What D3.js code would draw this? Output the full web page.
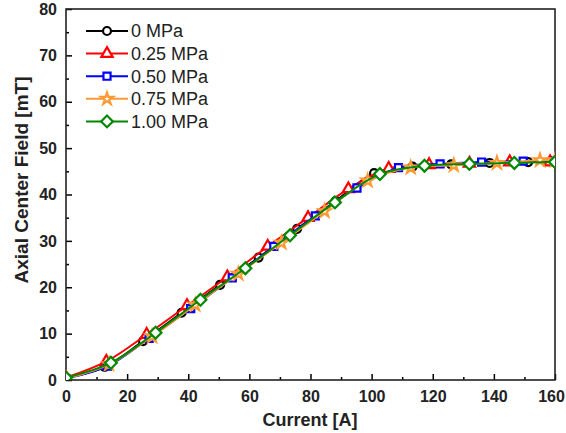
<!DOCTYPE html>
<html><head><meta charset="utf-8">
<script src="https://cdn.jsdelivr.net/npm/d3@7"></script>
<style>body{margin:0;background:#fff}svg{display:block}text{font-family:"Liberation Sans",Arial,sans-serif}</style>
</head><body><svg id="c" width="566" height="433"></svg>
<script>
const seriesNames = ["0 MPa","0.25 MPa","0.50 MPa","0.75 MPa","1.00 MPa"];
const seriesColors = ["#000000","#ff0000","#0000ff","#ff9933","#008800"];
const x0MPa = [0,12.6,25.2,37.8,50.4,63,75.6,88.2,100.8,113.4,126,138.6,151.2,160];
const y0MPa = [0.5,2.8,8.4,14.5,20.5,26.4,32.6,38.6,44.6,46.0,46.5,46.8,47.0,47.0];
const x025MPa = [0,13.2,26.4,39.6,52.8,66,79.2,92.4,105.6,118.8,132,145.2,158.4];
const y025MPa = [0.5,4.0,9.8,16.0,22.2,28.8,35.0,41.2,45.6,46.4,46.7,47.0,47.0];
const x050MPa = [0,13.6,27.2,40.8,54.4,68,81.6,95.2,108.8,122.4,136,149.6,160];
const y050MPa = [0.3,3.0,9.0,15.4,22.0,28.8,35.4,41.4,45.8,46.6,47.0,47.2,47.2];
const x075MPa = [0,14.1,28.2,42.3,56.4,70.5,84.6,98.7,112.8,126.9,141,155.1,160];
const y075MPa = [0.3,3.4,9.4,16.2,22.9,29.6,36.4,43.0,45.8,46.3,46.8,47.4,47.4];
const x100MPa = [0,14.7,29.3,44,58.7,73.3,88,102.7,117.3,132,146.7,160];
const y100MPa = [0.5,3.7,10.2,17.3,24.1,31.2,38.3,44.4,46.2,46.6,46.8,47.0];
const xTicks = [0,20,40,60,80,100,120,140,160];
const yTicks = [0,10,20,30,40,50,60,70,80];

const xs = [x0MPa,x025MPa,x050MPa,x075MPa,x100MPa];
const ys = [y0MPa,y025MPa,y050MPa,y075MPa,y100MPa];
const series = seriesNames.map((n,i)=>({name:n,color:seriesColors[i],pts:xs[i].map((x,j)=>({x,y:ys[i][j]}))}));

const L=66,R=555,T=9,B=380;
const svg=d3.select("#c");
const x=d3.scaleLinear().domain([0,160]).range([L,R]);
const y=d3.scaleLinear().domain([0,80]).range([B,T]);

svg.append("defs").append("clipPath").attr("id","clip").append("rect").attr("x",L).attr("y",T).attr("width",R-L).attr("height",B-T);

const gx=svg.append("g").attr("transform",`translate(0,${B})`);
gx.call(d3.axisBottom(x).tickValues(d3.range(10,160,20)).tickSize(-3).tickFormat("")).call(g=>g.select(".domain").remove());
const gx2=svg.append("g").attr("transform",`translate(0,${B})`)
 .call(d3.axisBottom(x).tickValues(xTicks).tickSize(-6).tickPadding(11).tickFormat(d3.format("d")));
gx2.select(".domain").remove();
gx2.selectAll("text").attr("font-size",16).attr("font-weight","bold").attr("fill","#222").attr("dy","0.71em");
gx2.selectAll("text").filter(d=>d===160).attr("dx","-4");
const gy=svg.append("g").attr("transform",`translate(${L},0)`);
gy.call(d3.axisLeft(y).tickValues(d3.range(5,80,10)).tickSize(-3).tickFormat("")).call(g=>g.select(".domain").remove());
const gy2=svg.append("g").attr("transform",`translate(${L},0)`)
 .call(d3.axisLeft(y).tickValues(yTicks).tickSize(-6).tickPadding(9).tickFormat(d3.format("d")));
gy2.select(".domain").remove();
gy2.selectAll("text").attr("font-size",16).attr("font-weight","bold").attr("fill","#222");
svg.selectAll(".tick line").attr("stroke","#000").attr("stroke-width",1.5);

svg.append("rect").attr("x",L).attr("y",T).attr("width",R-L).attr("height",B-T).attr("fill","none").attr("stroke","#222").attr("stroke-width",1.6);

const symbols=[d3.symbolCircle,d3.symbolTriangle,d3.symbolSquare,d3.symbolStar,d3.symbolSquare];
const sizes=[50,55,50,45,70];
const rot=[0,0,0,0,45];
const line=d3.line().x(d=>x(d.x)).y(d=>y(d.y)).curve(d3.curveCatmullRom);
const plot=svg.append("g").attr("clip-path","url(#clip)");
series.forEach((s,i)=>{
  const g=plot.append("g");
  g.append("path").attr("d",line(s.pts)).attr("fill","none").attr("stroke",s.color).attr("stroke-width",2);
  g.selectAll("path.m").data(s.pts).enter().append("path").attr("class","m")
   .attr("d",d3.symbol().type(symbols[i]).size(sizes[i]))
   .attr("transform",d=>`translate(${x(d.x)},${y(d.y)}) rotate(${rot[i]})`)
   .attr("fill","#fff").attr("stroke",s.color).attr("stroke-width",2.2);
});

const lg=svg.append("g");
series.forEach((s,i)=>{
  const yy=31+i*22.6;
  lg.append("line").attr("x1",86).attr("x2",128).attr("y1",yy).attr("y2",yy).attr("stroke",s.color).attr("stroke-width",2);
  lg.append("path").attr("d",d3.symbol().type(symbols[i]).size(sizes[i])).attr("transform",`translate(107,${yy}) rotate(${rot[i]})`)
    .attr("fill","#fff").attr("stroke",s.color).attr("stroke-width",2.2);
  lg.append("text").attr("x",131).attr("y",yy).attr("dy","0.35em").attr("font-size",18).attr("fill","#222").text(s.name);
});

svg.append("text").attr("x",310).attr("y",426).attr("text-anchor","middle").attr("font-size",18).attr("font-weight","bold").attr("fill","#222").text("Current [A]");
svg.append("text").attr("transform","translate(28,180) rotate(-90)").attr("text-anchor","middle").attr("font-size",19).attr("font-weight","bold").attr("fill","#222").text("Axial Center Field [mT]");
</script></body></html>
